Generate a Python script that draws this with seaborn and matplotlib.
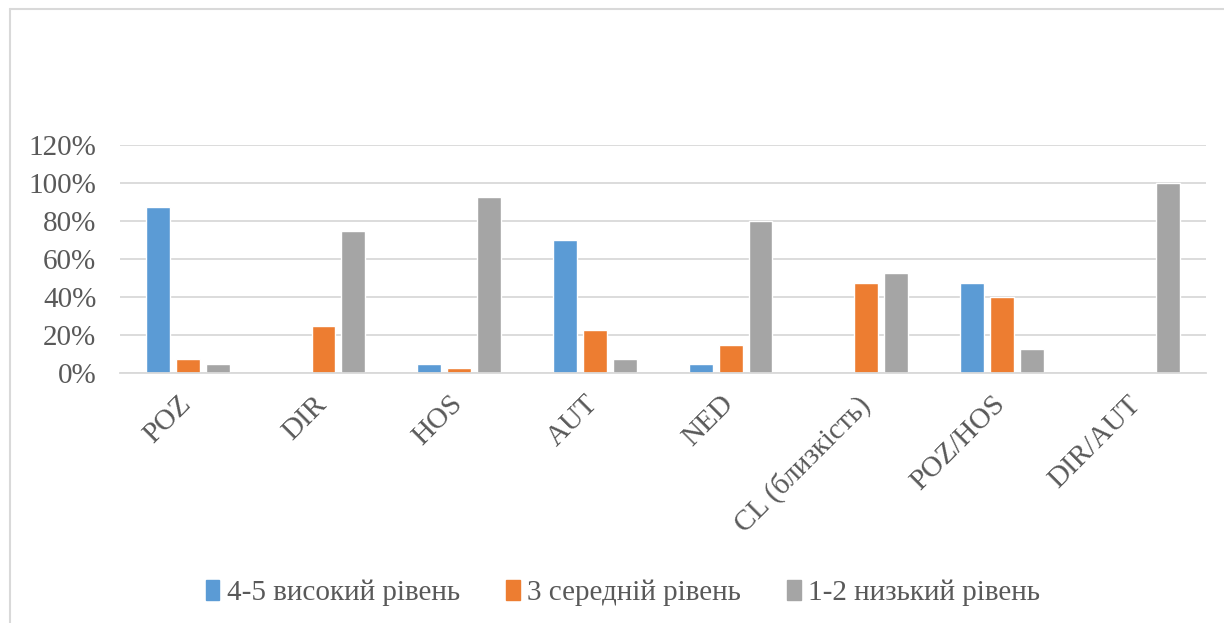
import pandas as pd
import matplotlib.pyplot as plt
import matplotlib.patches as mpatches
import matplotlib.transforms as mtransforms
from matplotlib.lines import Line2D
import seaborn as sns

# values (fractions)
categories = ['POZ', 'DIR', 'HOS', 'AUT', 'NED', 'CL (близкість)', 'POZ/HOS', 'DIR/AUT']
high = [0.875, 0.0, 0.05, 0.70, 0.05, 0.0, 0.475, 0.0]
middle = [0.075, 0.25, 0.025, 0.225, 0.15, 0.475, 0.40, 0.0]
low = [0.05, 0.75, 0.925, 0.075, 0.80, 0.525, 0.125, 1.0]
series_names = ['4-5 високий рівень', '3 середній рівень', '1-2 низький рівень']
colors = ['#5B9BD5', '#ED7D31', '#A5A5A5']
y_ticks = [0, 0.2, 0.4, 0.6, 0.8, 1.0, 1.2]
y_labels = ['0%', '20%', '40%', '60%', '80%', '100%', '120%']

df = pd.DataFrame({'cat': categories * 3,
                   'val': high + middle + low,
                   'series': [s for s in series_names for _ in categories]})

sns.set_style('white')
plt.rcParams['font.family'] = ['Liberation Serif', 'DejaVu Serif']
text_col = '#595959'

fig = plt.figure(figsize=(12.24, 6.23), dpi=100)
ax = fig.add_axes([0.098, 0.401, 0.887, 0.366])

sns.barplot(data=df, x='cat', y='val', hue='series', palette=colors,
            width=0.66, gap=0.2, ax=ax, legend=False, saturation=1)

ax.set_ylim(0, 1.2)
ax.set_yticks(y_ticks)
ax.set_yticklabels(y_labels, fontsize=21, color=text_col)
ax.yaxis.grid(True, color='#D9D9D9', linewidth=1.3)
ax.set_axisbelow(True)
for s in ['top', 'right', 'left']:
    ax.spines[s].set_visible(False)
ax.spines['bottom'].set_color('#D9D9D9')
ax.spines['bottom'].set_linewidth(1.3)
ax.tick_params(axis='y', length=0, pad=17)
ax.tick_params(axis='x', length=0, pad=10)
ax.set_xticks(range(len(categories)))
ax.set_xticklabels(categories, rotation=45, ha='right', rotation_mode='anchor',
                   fontsize=21, color=text_col)
# nudge rotated labels left so their ends sit under the category centre
shift = mtransforms.ScaledTranslation(-10 / 100, -4 / 100, fig.dpi_scale_trans)
for lbl in ax.get_xticklabels():
    lbl.set_transform(lbl.get_transform() + shift)
ax.set_xlabel('')
ax.set_ylabel('')
ax.set_xlim(-0.5, len(categories) - 0.5)

handles = [mpatches.Patch(color=c, label=n) for c, n in zip(colors, series_names)]
fig.legend(handles=handles, loc='center', bbox_to_anchor=(0.509, 0.048), ncol=3,
           frameon=False, fontsize=21, handlelength=0.45, handleheight=0.7,
           handletextpad=0.25, columnspacing=1.6, labelcolor=text_col)

# chart area border (left and top edges visible)
fig.add_artist(Line2D([0.0078, 0.0078], [0.0, 0.985], transform=fig.transFigure,
                      color='#D9D9D9', linewidth=1.5))
fig.add_artist(Line2D([0.0078, 1.0], [0.985, 0.985], transform=fig.transFigure,
                      color='#D9D9D9', linewidth=1.5))

fig.savefig('out.png', dpi=100)
